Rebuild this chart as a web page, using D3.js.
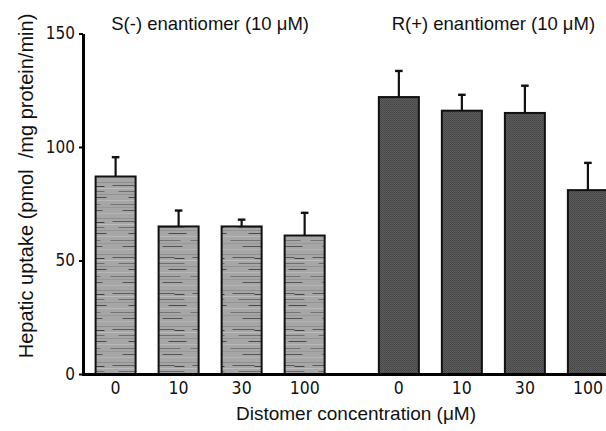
<!DOCTYPE html>
<html>
<head>
  <meta charset="utf-8">
  <script src="https://d3js.org/d3.v7.min.js"></script>
  <style>
    body { margin: 0; background: #fff; }
    svg { display: block; }
  </style>
</head>
<body>
  <div id="view"></div>
  <script>
    // data
    var groups = ["S(-) enantiomer (10 \u03bcM)", "R(+) enantiomer (10 \u03bcM)"];
    var concentrations = ["0", "10", "30", "100"];
    var sValues = [87, 65, 65, 61];
    var sErrors = [8.5, 7, 3, 10];
    var rValues = [122, 116, 115, 81];
    var rErrors = [11.5, 7, 12, 12];
    var yTicks = [0, 50, 100, 150];

    var width = 606, height = 431;
    var narrow = "'Liberation Sans Narrow', 'DejaVu Sans Condensed', sans-serif";
    var plain = "'Liberation Sans', Arial, sans-serif";

    var svg = d3.select("#view").append("svg")
      .attr("width", width)
      .attr("height", height);

    var defs = svg.append("defs");

    // streaky light grey fill for S(-) bars
    var pS = defs.append("pattern")
      .attr("id", "streak")
      .attr("patternUnits", "userSpaceOnUse")
      .attr("width", 40).attr("height", 36);
    pS.append("rect").attr("width", 40).attr("height", 36).attr("fill", "#a6a6a6");
    var streaks = [
      [0, 2, 40, "#8e8e8e"], [4, 5, 22, "#5a5a5a"], [0, 8, 40, "#bcbcbc"],
      [10, 11, 26, "#6e6e6e"], [0, 14, 40, "#939393"], [20, 17, 18, "#4a4a4a"],
      [0, 20, 40, "#b8b8b8"], [2, 24, 30, "#747474"], [0, 27, 40, "#989898"],
      [14, 30, 20, "#555"], [0, 33, 40, "#b4b4b4"], [26, 6, 10, "#404040"]
    ];
    streaks.forEach(function (s) {
      pS.append("rect").attr("x", s[0]).attr("y", s[1])
        .attr("width", s[2]).attr("height", 1).attr("fill", s[3]);
    });

    // dotted dark grey fill for R(+) bars
    var pR = defs.append("pattern")
      .attr("id", "dots")
      .attr("patternUnits", "userSpaceOnUse")
      .attr("width", 2).attr("height", 2);
    pR.append("rect").attr("width", 2).attr("height", 2).attr("fill", "#666");
    pR.append("rect").attr("width", 1).attr("height", 1).attr("fill", "#3a3a3a");
    pR.append("rect").attr("x", 1).attr("y", 1).attr("width", 1).attr("height", 1).attr("fill", "#444");

    var y = d3.scaleLinear().domain([0, 150]).range([374, 33.5]);

    var outer = d3.scaleBand().domain(groups).range([68.5, 635]).padding(0);
    var inner = d3.scaleBand().domain(concentrations)
      .range([0, outer.bandwidth()])
      .paddingInner(0.365).paddingOuter(0.43);

    var series = [
      { group: groups[0], values: sValues, errors: sErrors, fill: "url(#streak)" },
      { group: groups[1], values: rValues, errors: rErrors, fill: "url(#dots)" }
    ];

    var g = svg.selectAll("g.grp").data(series).enter().append("g")
      .attr("class", "grp")
      .attr("transform", function (d) { return "translate(" + outer(d.group) + ",0)"; });

    g.each(function (s) {
      var grp = d3.select(this);
      var rows = concentrations.map(function (c, i) {
        return { c: c, v: s.values[i], e: s.errors[i] };
      });

      // error bars (upper only)
      grp.selectAll("line.err").data(rows).enter().append("line")
        .attr("x1", function (d) { return inner(d.c) + inner.bandwidth() / 2; })
        .attr("x2", function (d) { return inner(d.c) + inner.bandwidth() / 2; })
        .attr("y1", function (d) { return y(d.v); })
        .attr("y2", function (d) { return y(d.v + d.e); })
        .attr("stroke", "#111").attr("stroke-width", 2.2);
      grp.selectAll("line.cap").data(rows).enter().append("line")
        .attr("x1", function (d) { return inner(d.c) + inner.bandwidth() / 2 - 3.8; })
        .attr("x2", function (d) { return inner(d.c) + inner.bandwidth() / 2 + 3.8; })
        .attr("y1", function (d) { return y(d.v + d.e); })
        .attr("y2", function (d) { return y(d.v + d.e); })
        .attr("stroke", "#111").attr("stroke-width", 2.4);

      grp.selectAll("rect.bar").data(rows).enter().append("rect")
        .attr("class", "bar")
        .attr("x", function (d) { return inner(d.c); })
        .attr("y", function (d) { return y(d.v); })
        .attr("width", inner.bandwidth())
        .attr("height", function (d) { return y(0) - y(d.v); })
        .attr("fill", s.fill)
        .attr("stroke", "#111").attr("stroke-width", 2);

      // concentration labels
      var ax = grp.append("g")
        .attr("transform", "translate(0," + y(0) + ")")
        .call(d3.axisBottom(inner).tickSize(0).tickPadding(8));
      ax.select(".domain").remove();
      ax.selectAll("text")
        .attr("font-family", narrow).attr("font-size", 17.5).attr("fill", "#111");

      grp.append("text")
        .attr("x", outer.bandwidth() / 2)
        .attr("y", 30)
        .attr("text-anchor", "middle")
        .attr("font-family", plain).attr("font-size", 18.5).attr("fill", "#111")
        .text(s.group);
    });

    // x baseline
    svg.append("line")
      .attr("x1", 82).attr("x2", width)
      .attr("y1", y(0) + 0.5).attr("y2", y(0) + 0.5)
      .attr("stroke", "#000").attr("stroke-width", 3);

    // y axis
    var yAxis = svg.append("g")
      .attr("transform", "translate(83,0)")
      .call(d3.axisLeft(y).tickValues(yTicks).tickSize(4).tickSizeOuter(0).tickPadding(4));
    yAxis.select(".domain").attr("stroke", "#000").attr("stroke-width", 3);
    yAxis.selectAll(".tick line").attr("stroke", "#000").attr("stroke-width", 2);
    yAxis.selectAll("text")
      .attr("font-family", narrow).attr("font-size", 17).attr("fill", "#111");

    // axis titles
    svg.append("text")
      .attr("x", 356).attr("y", 420)
      .attr("text-anchor", "middle")
      .attr("font-family", plain).attr("font-size", 19).attr("fill", "#111")
      .text("Distomer concentration (\u03bcM)");

    svg.append("text")
      .attr("transform", "translate(33,186) rotate(-90)")
      .attr("text-anchor", "middle")
      .attr("font-family", plain).attr("font-size", 20).attr("fill", "#111")
      .style("white-space", "pre")
      .text("Hepatic uptake (pmol  /mg protein/min)");
  </script>
</body>
</html>
